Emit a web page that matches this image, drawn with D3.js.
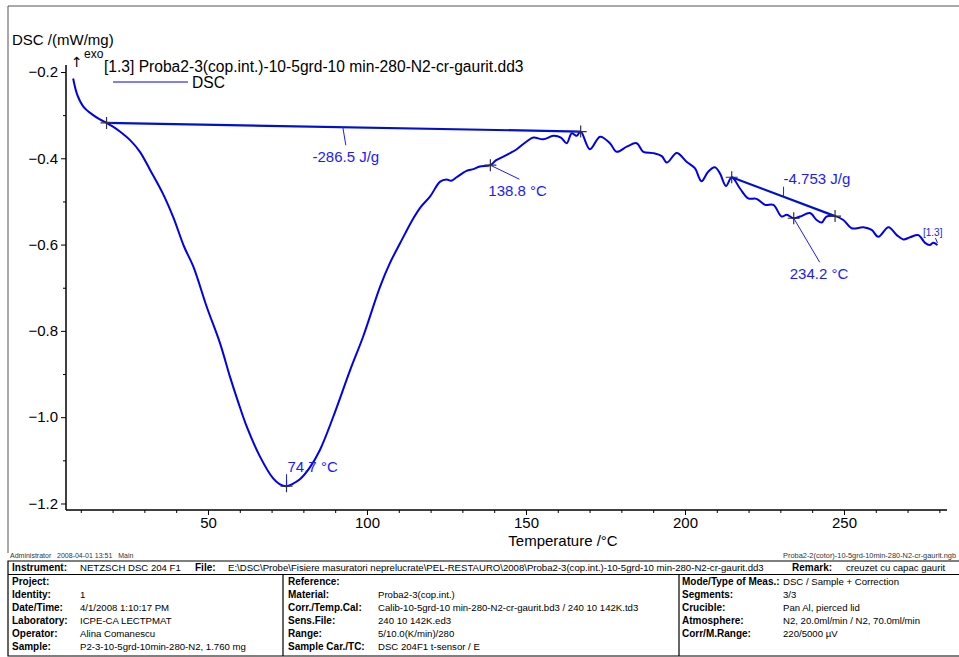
<!DOCTYPE html>
<html><head><meta charset="utf-8">
<script src="https://cdn.jsdelivr.net/npm/d3@7/dist/d3.min.js"></script>
<style>
html,body{margin:0;padding:0;background:#fff;}
svg{display:block;font-family:"Liberation Sans",Arial,sans-serif;}
</style></head>
<body>
<svg id="c" width="959" height="657"></svg>
<script>
// ---------- data ----------
const temperature = [7.6,8.9,10.8,13.9,16.0,18.1,20.0,22.3,25.5,28.6,31.8,35.9,39.1,42.5,45.4,49.6,53.8,56.9,59.5,62.2,66.4,70.5,72.5,74.7,76.5,78.9,82.0,85.2,89.4,94.7,98.8,104.1,107.2,110.4,114.6,117.0,119.8,123.0,125.0,126.5,128.2,131.3,133.5,135.5,138.8,140.5,142.9,145.0,147.1,150.2,152.3,155.4,158.6,161.0,162.8,164.4,165.9,167.2,170.1,173.3,176.4,178.5,181.7,184.8,186.9,190.0,192.7,194.3,197.4,200.5,203.1,205.2,207.3,209.4,211.0,212.9,214.7,217.3,219.9,222.5,225.2,227.8,230.4,232.0,234.2,236.2,239.3,241.4,243.0,244.5,247.2,249.8,252.4,256.1,258.7,260.8,264.0,266.6,268.7,270.8,273.4,275.5,277.0,278.0,279.4];
const dsc = [-0.215,-0.253,-0.280,-0.300,-0.310,-0.318,-0.326,-0.338,-0.358,-0.385,-0.427,-0.483,-0.537,-0.605,-0.651,-0.744,-0.829,-0.906,-0.965,-1.022,-1.092,-1.142,-1.155,-1.160,-1.155,-1.144,-1.117,-1.076,-0.999,-0.891,-0.813,-0.698,-0.643,-0.597,-0.539,-0.512,-0.489,-0.454,-0.449,-0.452,-0.444,-0.429,-0.425,-0.419,-0.416,-0.405,-0.396,-0.388,-0.379,-0.361,-0.352,-0.356,-0.348,-0.352,-0.365,-0.342,-0.348,-0.338,-0.379,-0.350,-0.365,-0.385,-0.373,-0.365,-0.385,-0.388,-0.395,-0.410,-0.388,-0.408,-0.423,-0.453,-0.431,-0.421,-0.435,-0.464,-0.444,-0.470,-0.493,-0.494,-0.508,-0.508,-0.535,-0.531,-0.539,-0.535,-0.527,-0.543,-0.549,-0.535,-0.534,-0.543,-0.562,-0.560,-0.566,-0.582,-0.560,-0.578,-0.588,-0.583,-0.578,-0.596,-0.601,-0.596,-0.601];

const xMajorTicks = [50,100,150,200,250];
const xMinorTicks = [10,20,30,40,60,70,80,90,110,120,130,140,160,170,180,190,210,220,230,240,260,270,280];
const yMajorTicks = [-0.2,-0.4,-0.6,-0.8,-1.0,-1.2];
const yMinorTicks = [-0.3,-0.5,-0.7,-0.9,-1.1];

// baselines (integration limits)
const peak1Base = [[18.1,-0.318],[167.2,-0.338]];
const peak2Base = [[214.7,-0.444],[247.2,-0.534]];
const markers = [[18.1,-0.318],[167.2,-0.338],[138.8,-0.416],[74.7,-1.160],[214.7,-0.444],[234.2,-0.539],[247.2,-0.534]];

const annotations = {
  area1: "-286.5 J/g", area2: "-4.753 J/g",
  peak1: "74.7 °C", onset1: "138.8 °C", peak2: "234.2 °C"
};

const headerRow = [
  {t:"Instrument:",x:12,b:true},{t:"NETZSCH DSC 204 F1",x:80},
  {t:"File:",x:195,b:true},{t:"E:\\DSC\\Probe\\Fisiere masuratori neprelucrate\\PEL-RESTAURO\\2008\\Proba2-3(cop.int.)-10-5grd-10 min-280-N2-cr-gaurit.dd3",x:228},
  {t:"Remark:",x:792,b:true},{t:"creuzet cu capac gaurit",x:846}
];
const col1Labels = ["Project:","Identity:","Date/Time:","Laboratory:","Operator:","Sample:"];
const col1Values = ["","1","4/1/2008 1:10:17 PM","ICPE-CA LECTPMAT","Alina Comanescu","P2-3-10-5grd-10min-280-N2, 1.760 mg"];
const col2Labels = ["Reference:","Material:","Corr./Temp.Cal:","Sens.File:","Range:","Sample Car./TC:"];
const col2Values = ["","Proba2-3(cop.int.)","Calib-10-5grd-10 min-280-N2-cr-gaurit.bd3 / 240 10 142K.td3","240 10 142K.ed3","5/10.0(K/min)/280","DSC 204F1 t-sensor / E"];
const col3Labels = ["Mode/Type of Meas.:","Segments:","Crucible:","Atmosphere:","Corr/M.Range:",""];
const col3Values = ["DSC / Sample + Correction","3/3","Pan Al, pierced lid","N2, 20.0ml/min / N2, 70.0ml/min","220/5000 µV",""];

// ---------- drawing ----------
const svg = d3.select("#c");
const blue = "#1a1aff", curveBlue = "#0000f0", baseBlue = "#0010d0";

const x = d3.scaleLinear().domain([5.35,282.4]).range([66,947]);
const y = d3.scaleLinear().domain([-0.1838,-1.2151]).range([65,510]);

// outer frame
svg.append("path").attr("d","M8,553 V6 H959").attr("fill","none").attr("stroke","#555").attr("stroke-width",1);

// axes
const axL = svg.append("g").attr("transform","translate(66,0)")
  .call(d3.axisLeft(y).tickValues(yMajorTicks).tickSize(5).tickPadding(3).tickFormat(d3.format(".1f")));
const axLm = svg.append("g").attr("transform","translate(66,0)")
  .call(d3.axisLeft(y).tickValues(yMinorTicks).tickSize(3).tickFormat(""));
const axB = svg.append("g").attr("transform","translate(0,510)")
  .call(d3.axisBottom(x).tickValues(xMajorTicks).tickSize(5).tickPadding(2));
const axBm = svg.append("g").attr("transform","translate(0,510)")
  .call(d3.axisBottom(x).tickValues(xMinorTicks).tickSize(3).tickFormat(""));
[axL,axLm,axB,axBm].forEach(a=>{
  a.selectAll(".domain").attr("stroke","#000").attr("stroke-width",1.5);
  a.selectAll(".tick line").attr("stroke","#000").attr("stroke-width",1);
  a.selectAll(".tick text").attr("font-size",15).attr("fill","#000").attr("font-family",'"Liberation Sans",Arial,sans-serif');
});
axL.select(".domain").attr("d","M0,65V510");
axB.select(".domain").attr("d","M66,0H947");
axLm.select(".domain").remove(); axBm.select(".domain").remove();

// axis titles
svg.append("text").attr("x",12).attr("y",45).attr("font-size",15).text("DSC /(mW/mg)");
svg.append("text").attr("x",563).attr("y",546).attr("font-size",15).attr("text-anchor","middle").text("Temperature /°C");

// legend
svg.append("text").attr("x",71).attr("y",67).attr("font-size",14).attr("font-family","'DejaVu Sans',sans-serif").text("↑");
svg.append("text").attr("x",84).attr("y",58).attr("font-size",12).text("exo");
svg.append("text").attr("x",104).attr("y",72).attr("font-size",15.6).text("[1.3] Proba2-3(cop.int.)-10-5grd-10 min-280-N2-cr-gaurit.dd3");
svg.append("line").attr("x1",113).attr("x2",188).attr("y1",82).attr("y2",82).attr("stroke",curveBlue).attr("stroke-width",1.2);
svg.append("text").attr("x",192).attr("y",88).attr("font-size",15.6).text("DSC");

// curve
const pts = temperature.map((t,i)=>[t,dsc[i]]);
const line = d3.line().x(d=>x(d[0])).y(d=>y(d[1])).curve(d3.curveCatmullRom.alpha(0.5));
svg.append("path").datum(pts).attr("d",line).attr("fill","none").attr("stroke",curveBlue).attr("stroke-width",2);

// baselines
const lin = d3.line().x(d=>x(d[0])).y(d=>y(d[1]));
[peak1Base,peak2Base].forEach(b=>svg.append("path").datum(b).attr("d",lin).attr("fill","none").attr("stroke",baseBlue).attr("stroke-width",2.2));

// markers
markers.forEach(m=>{
  const cx=x(m[0]), cy=y(m[1]);
  svg.append("path").attr("d",`M${cx-6},${cy}H${cx+6}M${cx},${cy-6}V${cy+6}`).attr("stroke","#333").attr("stroke-width",1.2);
});

// annotation helper
function leader(x1,y1,x2,y2){svg.append("line").attr("x1",x1).attr("y1",y1).attr("x2",x2).attr("y2",y2).attr("stroke",blue).attr("stroke-width",1);}
function label(t,tx,ty,size,anchor){svg.append("text").attr("x",tx).attr("y",ty).attr("font-size",size||15).attr("fill",blue).attr("text-anchor",anchor||"start").text(t);}

// -286.5 J/g
{ const t=92.4, v=peak1Base[0][1]+(t-peak1Base[0][0])/(peak1Base[1][0]-peak1Base[0][0])*(peak1Base[1][1]-peak1Base[0][1]);
  const px=x(t), py=y(v); leader(px,py,px+3,py+18); label(annotations.area1,px+3,py+35,15,"middle"); }
// 74.7 °C
{ const px=x(74.7), py=y(-1.160); leader(px,py,px,py-12); label(annotations.peak1,px+1,py-14,15); }
// 138.8 °C
{ const px=x(138.8), py=y(-0.416); leader(px,py,px+29,py+14); label(annotations.onset1,px-2,py+31,15); }
// -4.753 J/g
{ const t=231, v=peak2Base[0][1]+(t-peak2Base[0][0])/(peak2Base[1][0]-peak2Base[0][0])*(peak2Base[1][1]-peak2Base[0][1]);
  const px=x(t), py=y(v); leader(px,py,px,py-10); label(annotations.area2,px,py-13,15); }
// 234.2 °C
{ const px=x(234.2), py=y(-0.539); leader(px,py,px+26,py+44); label(annotations.peak2,px-4,py+61,15); }
// [1.3]
{ const px=x(279.4), py=y(-0.601); leader(px,py-2,px-2,py-7); label("[1.3]",px+5,py-9,10,"end"); }

// footer texts
svg.append("text").attr("x",10).attr("y",558).attr("font-size",7).attr("fill","#333").style("white-space","pre").text("Administrator   2008-04-01 13:51   Main");
svg.append("text").attr("x",956).attr("y",558).attr("font-size",7.4).attr("fill","#333").attr("text-anchor","end").text("Proba2-2(cotor)-10-5grd-10min-280-N2-cr-gaurit.ngb");

// table
const tbl = svg.append("g");
tbl.append("path").attr("d","M960,561 H8 V656 H960 M8,574.5 H960 M283,574.5 V656 M679,574.5 V656")
  .attr("fill","none").attr("stroke","#000").attr("stroke-width",1.2);
headerRow.forEach(c=>tbl.append("text").attr("x",c.x).attr("y",571).attr("font-size",c.b?10:9.6).attr("font-weight",c.b?"bold":"normal").text(c.t));
const rowY = i=>585+i*13;
function col(labels,values,lx,vx){
  labels.forEach((l,i)=>{ if(l) tbl.append("text").attr("x",lx).attr("y",rowY(i)).attr("font-size",10).attr("font-weight","bold").text(l); });
  values.forEach((v,i)=>{ if(v) tbl.append("text").attr("x",vx).attr("y",rowY(i)).attr("font-size",9.6).text(v); });
}
col(col1Labels,col1Values,12,80);
col(col2Labels,col2Values,288,378);
col(col3Labels,col3Values,682,783);
</script>
</body></html>
